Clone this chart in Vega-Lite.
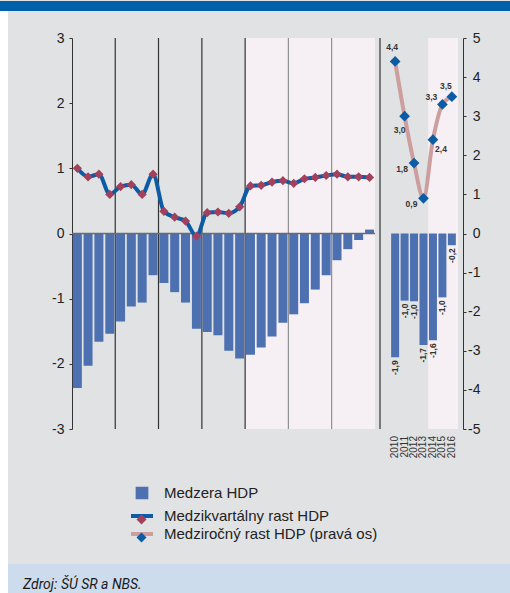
{
  "$schema": "https://vega.github.io/schema/vega-lite/v6.json",
  "background": "#E1E2E4",
  "padding": 0,
  "spacing": 0,
  "bounds": "flush",
  "columns": 5,
  "resolve": {"scale": {"color": "independent", "fill": "independent"}},
  "config": {
    "font": "Liberation Sans",
    "view": {"stroke": null},
    "locale": {"number": {"decimal": ",", "thousands": "\u00a0", "grouping": [3], "currency": ["", " €"], "minus": "-"}},
    "axis": {"labelFont": "Liberation Sans", "labelColor": "#222222"}
  },
  "datasets": {
    "kvartaly": [
      {"obdobie": "2010-01-01", "medzera": -2.37, "rast": 1.00},
      {"obdobie": "2010-04-01", "medzera": -2.03, "rast": 0.87},
      {"obdobie": "2010-07-01", "medzera": -1.66, "rast": 0.91},
      {"obdobie": "2010-10-01", "medzera": -1.54, "rast": 0.60},
      {"obdobie": "2011-01-01", "medzera": -1.35, "rast": 0.72},
      {"obdobie": "2011-04-01", "medzera": -1.12, "rast": 0.75},
      {"obdobie": "2011-07-01", "medzera": -1.06, "rast": 0.60},
      {"obdobie": "2011-10-01", "medzera": -0.64, "rast": 0.91},
      {"obdobie": "2012-01-01", "medzera": -0.76, "rast": 0.34},
      {"obdobie": "2012-04-01", "medzera": -0.90, "rast": 0.25},
      {"obdobie": "2012-07-01", "medzera": -1.06, "rast": 0.19},
      {"obdobie": "2012-10-01", "medzera": -1.46, "rast": -0.04},
      {"obdobie": "2013-01-01", "medzera": -1.51, "rast": 0.32},
      {"obdobie": "2013-04-01", "medzera": -1.56, "rast": 0.33},
      {"obdobie": "2013-07-01", "medzera": -1.80, "rast": 0.31},
      {"obdobie": "2013-10-01", "medzera": -1.92, "rast": 0.41},
      {"obdobie": "2014-01-01", "medzera": -1.86, "rast": 0.73},
      {"obdobie": "2014-04-01", "medzera": -1.75, "rast": 0.74},
      {"obdobie": "2014-07-01", "medzera": -1.58, "rast": 0.79},
      {"obdobie": "2014-10-01", "medzera": -1.37, "rast": 0.81},
      {"obdobie": "2015-01-01", "medzera": -1.24, "rast": 0.77},
      {"obdobie": "2015-04-01", "medzera": -1.07, "rast": 0.84},
      {"obdobie": "2015-07-01", "medzera": -0.86, "rast": 0.86},
      {"obdobie": "2015-10-01", "medzera": -0.64, "rast": 0.89},
      {"obdobie": "2016-01-01", "medzera": -0.41, "rast": 0.91},
      {"obdobie": "2016-04-01", "medzera": -0.24, "rast": 0.87},
      {"obdobie": "2016-07-01", "medzera": -0.10, "rast": 0.87},
      {"obdobie": "2016-10-01", "medzera": 0.06, "rast": 0.86}
    ],
    "roky": [
      {"rok": 2010, "medzera": -1.90, "rast": 4.4},
      {"rok": 2011, "medzera": -1.03, "rast": 3.0},
      {"rok": 2012, "medzera": -1.04, "rast": 1.8},
      {"rok": 2013, "medzera": -1.71, "rast": 0.9},
      {"rok": 2014, "medzera": -1.64, "rast": 2.4},
      {"rok": 2015, "medzera": -0.98, "rast": 3.3},
      {"rok": 2016, "medzera": -0.18, "rast": 3.5}
    ]
  },
  "concat": [
    {"width": 8, "height": 10, "view": {"fill": "#0060A9", "stroke": null}, "data": {"values": [{}]}, "mark": {"type": "text", "text": ""}},
    {"width": 64, "height": 10, "view": {"fill": "#0060A9", "stroke": null}, "data": {"values": [{}]}, "mark": {"type": "text", "text": ""}},
    {"width": 303, "height": 10, "view": {"fill": "#0060A9", "stroke": null}, "data": {"values": [{}]}, "mark": {"type": "text", "text": ""}},
    {"width": 88, "height": 10, "view": {"fill": "#0060A9", "stroke": null}, "data": {"values": [{}]}, "mark": {"type": "text", "text": ""}},
    {"width": 47, "height": 10, "view": {"fill": "#0060A9", "stroke": null}, "data": {"values": [{}]}, "mark": {"type": "text", "text": ""}},

    {"width": 8, "height": 27, "view": {"fill": "#ffffff", "stroke": null}, "data": {"values": [{}]}, "mark": {"type": "text", "text": ""}},
    {"width": 64, "height": 27, "data": {"values": [{}]}, "mark": {"type": "text", "text": ""}},
    {"width": 303, "height": 27, "data": {"values": [{}]}, "mark": {"type": "text", "text": ""}},
    {"width": 88, "height": 27, "data": {"values": [{}]}, "mark": {"type": "text", "text": ""}},
    {"width": 47, "height": 27, "data": {"values": [{}]}, "mark": {"type": "text", "text": ""}},

    {"width": 8, "height": 391, "view": {"fill": "#ffffff", "stroke": null}, "data": {"values": [{}]}, "mark": {"type": "text", "text": ""}},
    {"width": 64, "height": 391, "data": {"values": [{}]}, "mark": {"type": "text", "text": ""}},
    {
      "width": 303, "height": 391,
      "layer": [
        {
          "data": {"values": [{}]},
          "mark": {"type": "rect", "color": "#F6F0F4"},
          "encoding": {
            "x": {"datum": {"year": 2014, "month": 1, "date": 1, "utc": true}, "type": "temporal",
                  "scale": {"type": "utc", "domain": [{"year": 2010, "month": 1, "date": 1, "utc": true}, {"year": 2017, "month": 1, "date": 1, "utc": true}], "nice": false}, "axis": null},
            "x2": {"datum": {"year": 2017, "month": 1, "date": 1, "utc": true}}
          }
        },
        {
          "data": {"values": [{"hranica": "2011-01-01"}, {"hranica": "2012-01-01"}, {"hranica": "2013-01-01"}, {"hranica": "2014-01-01"}, {"hranica": "2015-01-01"}, {"hranica": "2016-01-01"}]},
          "mark": {"type": "rule", "strokeWidth": 1.2},
          "encoding": {
            "x": {"field": "hranica", "type": "temporal", "scale": {"type": "utc"}, "axis": null},
            "color": {"condition": {"test": "utcyear(datum.hranica) >= 2015", "value": "#8f8f8f"}, "value": "#333333"}
          }
        },
        {
          "data": {"name": "kvartaly"},
          "mark": {"type": "bar", "width": 9},
          "encoding": {
            "x": {"field": "obdobie", "type": "temporal", "timeUnit": "utcyearquarter", "bandPosition": 0.5,
                  "scale": {"type": "utc"},
                  "axis": {"values": [{"year": 2010, "month": 7, "date": 2, "utc": true}, {"year": 2011, "month": 7, "date": 2, "utc": true}, {"year": 2012, "month": 7, "date": 2, "utc": true}, {"year": 2013, "month": 7, "date": 2, "utc": true}, {"year": 2014, "month": 7, "date": 2, "utc": true}, {"year": 2015, "month": 7, "date": 2, "utc": true}, {"year": 2016, "month": 7, "date": 2, "utc": true}],
                           "labelExpr": "utcFormat(datum.value, '%Y')", "domain": false, "ticks": false, "grid": false, "title": null,
                           "labelFontSize": 13, "labelPadding": 5, "labelColor": "#222222", "labelAngle": 0}},
            "y": {"field": "medzera", "type": "quantitative", "scale": {"domain": [-3, 3], "nice": false},
                  "axis": {"orient": "left", "values": [-3, -2, -1, 0, 1, 2, 3], "format": "d", "tickSize": 3, "labelPadding": 5, "domainColor": "#333333", "tickColor": "#333333", "labelFontSize": 14, "labelColor": "#222222", "grid": false, "title": null}},
            "color": {"datum": "Medzera HDP", "type": "nominal",
                      "scale": {"domain": ["Medzera HDP", "Medzikvartálny rast HDP", "Medziročný rast HDP (pravá os)"], "range": ["#4D70B0", "#0B5CA4", "#CC9E9E"]},
                      "legend": {
                        "orient": "none", "legendX": 62, "legendY": 447, "title": null, "direction": "vertical",
                        "padding": 0, "symbolSize": 100, "labelFontSize": 15, "labelFont": "Liberation Sans", "labelColor": "#222222",
                        "labelOffset": 14, "labelLimit": 400, "rowPadding": 2,
                        "encode": {"symbols": {"update": {
                          "shape": {"signal": "datum.value === 'Medzera HDP' ? 'square' : 'M-1.83,0L1.83,0'"},
                          "size": {"signal": "datum.value === 'Medzera HDP' ? 76 : 144"},
                          "fill": {"signal": "datum.value === 'Medzera HDP' ? '#4D70B0' : 'transparent'"},
                          "stroke": {"signal": "datum.value === 'Medzera HDP' ? 'transparent' : (datum.value === 'Medzikvartálny rast HDP' ? '#0B5CA4' : '#CC9E9E')"},
                          "strokeWidth": {"value": 4},
                          "opacity": {"value": 1}
                        }}}
                      }}
          }
        },
        {
          "data": {"values": [{}]},
          "mark": {"type": "rule", "color": "#6b6b6b", "strokeWidth": 1.5},
          "encoding": {"y": {"datum": 0, "type": "quantitative"}}
        },
        {
          "data": {"name": "kvartaly"},
          "mark": {"type": "line", "interpolate": "monotone", "strokeWidth": 4},
          "encoding": {
            "x": {"field": "obdobie", "type": "temporal", "timeUnit": "utcyearquarter", "bandPosition": 0.5},
            "y": {"field": "rast", "type": "quantitative"},
            "color": {"datum": "Medzikvartálny rast HDP", "type": "nominal"}
          }
        },
        {
          "data": {"name": "kvartaly"},
          "mark": {"type": "point", "shape": "diamond", "filled": true, "size": 85, "opacity": 1},
          "encoding": {
            "x": {"field": "obdobie", "type": "temporal", "timeUnit": "utcyearquarter", "bandPosition": 0.5},
            "y": {"field": "rast", "type": "quantitative"},
            "fill": {"datum": "Medzikvartálny rast HDP", "type": "nominal",
                     "scale": {"domain": ["Medzera HDP", "Medzikvartálny rast HDP", "Medziročný rast HDP (pravá os)", ""], "range": ["transparent", "#A3405C", "#0B5CA4", "transparent"]},
                     "legend": {
                       "orient": "none", "legendX": 62, "legendY": 456, "title": null, "direction": "vertical", "zindex": 1,
                       "padding": 0, "symbolSize": 100, "labelFontSize": 15, "labelFont": "Liberation Sans", "labelOpacity": 0,
                       "labelOffset": 14, "labelLimit": 400, "rowPadding": 2,
                       "encode": {"symbols": {"update": {
                         "shape": {"value": "diamond"},
                         "size": {"signal": "datum.value === 'Medzera HDP' ? 76 : 144"},
                         "stroke": {"value": "transparent"},
                         "strokeWidth": {"value": 4},
                         "opacity": {"value": 1}
                       }}}
                     }}
          }
        }
      ]
    },
    {
      "width": 88, "height": 391,
      "layer": [
        {
          "data": {"values": [{}]},
          "mark": {"type": "rect", "color": "#F6F0F4"},
          "encoding": {
            "x": {"datum": 2013.5, "type": "quantitative", "scale": {"domain": [2008.4, 2016.65], "nice": false, "zero": false}, "axis": null},
            "x2": {"datum": 2016.65}
          }
        },
        {
          "data": {"values": [{}]},
          "mark": {"type": "rule", "color": "#333333", "strokeWidth": 1.2},
          "encoding": {"x": {"datum": 2008.4, "type": "quantitative"}}
        },
        {
          "data": {"name": "roky"},
          "encoding": {"y": {"field": "medzera", "type": "quantitative", "scale": {"domain": [-3, 3], "nice": false}, "axis": null}},
          "layer": [
            {
              "mark": {"type": "bar", "width": 8, "color": "#4D70B0"},
              "encoding": {"x": {"field": "rok", "type": "quantitative"}}
            },
            {
              "data": {"values": [{}]},
              "mark": {"type": "rule", "color": "#6b6b6b", "strokeWidth": 1.5},
              "encoding": {"y": {"datum": 0, "type": "quantitative"}}
            },
            {
              "mark": {"type": "text", "angle": 270, "align": "right", "baseline": "middle", "dx": -3, "fontSize": 8.5, "fontWeight": "bold", "color": "#333333"},
              "encoding": {"x": {"field": "rok", "type": "quantitative"}, "text": {"field": "medzera", "type": "quantitative", "format": ".1f"}}
            },
            {
              "mark": {"type": "text", "angle": 270, "align": "right", "baseline": "middle", "dx": -7, "fontSize": 10, "color": "#333333"},
              "encoding": {"x": {"field": "rok", "type": "quantitative"}, "y": {"datum": -3, "type": "quantitative"}, "text": {"field": "rok", "type": "quantitative", "format": "d"}}
            }
          ]
        },
        {
          "data": {"name": "roky"},
          "encoding": {
            "x": {"field": "rok", "type": "quantitative"},
            "y": {"field": "rast", "type": "quantitative", "scale": {"domain": [-5, 5], "nice": false},
                  "axis": {"orient": "right", "values": [-5, -4, -3, -2, -1, 0, 1, 2, 3, 4, 5], "format": "d", "tickSize": 3, "labelAlign": "right", "labelPadding": 14,
                           "labelFontSize": 14, "domainColor": "#333333", "tickColor": "#333333", "labelColor": "#222222", "grid": false, "title": null}}
          },
          "layer": [
            {"mark": {"type": "line", "interpolate": "monotone", "strokeWidth": 4, "color": "#CC9E9E"}},
            {"mark": {"type": "point", "shape": "diamond", "filled": true, "size": 115, "opacity": 1, "color": "#0B5CA4"}},
            {"transform": [{"filter": "datum.rok == 2010"}],
             "mark": {"type": "text", "dx": -3, "dy": -14, "fontSize": 8.5, "fontWeight": "bold", "color": "#333333"},
             "encoding": {"text": {"field": "rast", "type": "quantitative", "format": ".1f"}}},
            {"transform": [{"filter": "datum.rok == 2011"}],
             "mark": {"type": "text", "dx": -5, "dy": 14, "fontSize": 8.5, "fontWeight": "bold", "color": "#333333"},
             "encoding": {"text": {"field": "rast", "type": "quantitative", "format": ".1f"}}},
            {"transform": [{"filter": "datum.rok == 2012 || datum.rok == 2013"}],
             "mark": {"type": "text", "dx": -12, "dy": 6, "fontSize": 8.5, "fontWeight": "bold", "color": "#333333"},
             "encoding": {"text": {"field": "rast", "type": "quantitative", "format": ".1f"}}},
            {"transform": [{"filter": "datum.rok == 2014"}],
             "mark": {"type": "text", "dx": 8, "dy": 9, "fontSize": 8.5, "fontWeight": "bold", "color": "#333333"},
             "encoding": {"text": {"field": "rast", "type": "quantitative", "format": ".1f"}}},
            {"transform": [{"filter": "datum.rok == 2015"}],
             "mark": {"type": "text", "dx": -11, "dy": -7, "fontSize": 8.5, "fontWeight": "bold", "color": "#333333"},
             "encoding": {"text": {"field": "rast", "type": "quantitative", "format": ".1f"}}},
            {"transform": [{"filter": "datum.rok == 2016"}],
             "mark": {"type": "text", "dx": -6, "dy": -11, "fontSize": 8.5, "fontWeight": "bold", "color": "#333333"},
             "encoding": {"text": {"field": "rast", "type": "quantitative", "format": ".1f"}}}
          ]
        }
      ],
      "resolve": {"scale": {"y": "independent"}}
    },
    {"width": 47, "height": 391, "data": {"values": [{}]}, "mark": {"type": "text", "text": ""}},

    {"width": 8, "height": 135, "view": {"fill": "#ffffff", "stroke": null}, "data": {"values": [{}]}, "mark": {"type": "text", "text": ""}},
    {"width": 64, "height": 135, "data": {"values": [{}]}, "mark": {"type": "text", "text": ""}},
    {"width": 303, "height": 135, "data": {"values": [{}]}, "mark": {"type": "text", "text": ""}},
    {"width": 88, "height": 135, "data": {"values": [{}]}, "mark": {"type": "text", "text": ""}},
    {"width": 47, "height": 135, "data": {"values": [{}]}, "mark": {"type": "text", "text": ""}},

    {"width": 8, "height": 30, "view": {"fill": "#ffffff", "stroke": null}, "data": {"values": [{}]}, "mark": {"type": "text", "text": ""}},
    {"width": 64, "height": 30, "view": {"fill": "#CDDCEC", "stroke": null}, "data": {"values": [{}]}, "mark": {"type": "text", "text": ""}},
    {
      "width": 303, "height": 30,
      "view": {"fill": "#CDDCEC", "stroke": null},
      "title": {"text": "Zdroj: ŠÚ SR a NBS.", "anchor": "start", "orient": "top", "frame": "group", "offset": -39, "baseline": "alphabetic",
                "font": "Roboto", "fontStyle": "italic", "fontWeight": "normal", "fontSize": 14, "color": "#1a1a1a", "dx": -49},
      "data": {"values": [{}]},
      "mark": {"type": "text", "text": ""}
    },
    {"width": 88, "height": 30, "view": {"fill": "#CDDCEC", "stroke": null}, "data": {"values": [{}]}, "mark": {"type": "text", "text": ""}},
    {"width": 47, "height": 30, "view": {"fill": "#CDDCEC", "stroke": null}, "data": {"values": [{}]}, "mark": {"type": "text", "text": ""}}
  ]
}
